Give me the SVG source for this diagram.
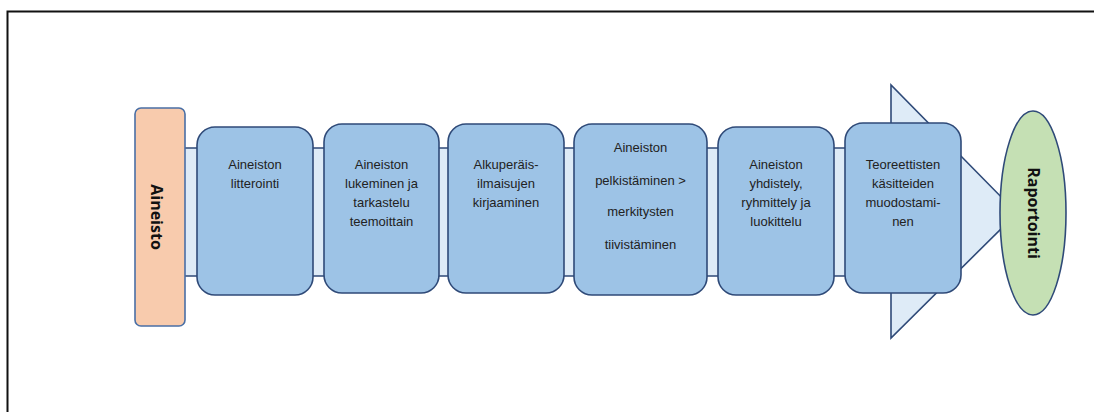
<svg xmlns="http://www.w3.org/2000/svg" width="1094" height="412" viewBox="0 0 1094 412">
<style>
.box{fill:#9DC3E6;stroke:#2F4A78;stroke-width:1.6}
.t{font-family:"Liberation Sans",Arial,sans-serif;font-size:13px;fill:#222;text-anchor:middle}
.b{font-family:"Open Sans","Liberation Sans",sans-serif;font-size:16px;font-weight:bold;fill:#111;text-anchor:middle}
</style>
<rect width="1094" height="412" fill="#fff"/>
<path d="M7.5 412 V11.5 H1094" fill="none" stroke="#111" stroke-width="2"/>
<g id="connectors">
<polygon points="180,148 891,148 891,85 1017,213 891,338 891,276 180,276" fill="#DEEBF7" stroke="#2F4A78" stroke-width="1.6" stroke-linejoin="miter"/>
</g>
<g id="aineisto">
<rect x="135" y="108" width="50" height="218" rx="6" fill="#F8CBAD" stroke="#4A6FA5" stroke-width="1.6"/>
<text class="b" transform="translate(156,217) rotate(90)" dy="5">Aineisto</text>
</g>
<g id="n1">
<rect class="box" x="197" y="127" width="116" height="168" rx="18"/>
<text class="t" x="255" y="169">Aineiston</text>
<text class="t" x="255" y="188">litterointi</text>
</g>
<g id="n2">
<rect class="box" x="324" y="124" width="115" height="169" rx="18"/>
<text class="t" x="381.5" y="169">Aineiston</text>
<text class="t" x="381.5" y="188">lukeminen ja</text>
<text class="t" x="381.5" y="207">tarkastelu</text>
<text class="t" x="381.5" y="226">teemoittain</text>
</g>
<g id="n3">
<rect class="box" x="448" y="124" width="116" height="169" rx="18"/>
<text class="t" x="506" y="169">Alkuperäis-</text>
<text class="t" x="506" y="188">ilmaisujen</text>
<text class="t" x="506" y="207">kirjaaminen</text>
</g>
<g id="n4">
<rect class="box" x="574" y="124" width="133" height="171" rx="18"/>
<text class="t" x="640.5" y="152">Aineiston</text>
<text class="t" x="640.5" y="185">pelkistäminen &gt;</text>
<text class="t" x="640.5" y="216">merkitysten</text>
<text class="t" x="640.5" y="249">tiivistäminen</text>
</g>
<g id="n5">
<rect class="box" x="718" y="127" width="116" height="168" rx="18"/>
<text class="t" x="776" y="169">Aineiston</text>
<text class="t" x="776" y="188">yhdistely,</text>
<text class="t" x="776" y="207">ryhmittely ja</text>
<text class="t" x="776" y="226">luokittelu</text>
</g>
<g id="n6">
<rect class="box" x="845" y="123" width="116" height="170" rx="18"/>
<text class="t" x="903" y="169">Teoreettisten</text>
<text class="t" x="903" y="188">käsitteiden</text>
<text class="t" x="903" y="207">muodostami-</text>
<text class="t" x="903" y="226">nen</text>
</g>
<g id="raportointi">
<ellipse cx="1033" cy="213" rx="33" ry="102" fill="#C5E0B4" stroke="#2F4A78" stroke-width="1.6"/>
<text class="b" transform="translate(1033,213) rotate(90)" dy="5">Raportointi</text>
</g>
</svg>
